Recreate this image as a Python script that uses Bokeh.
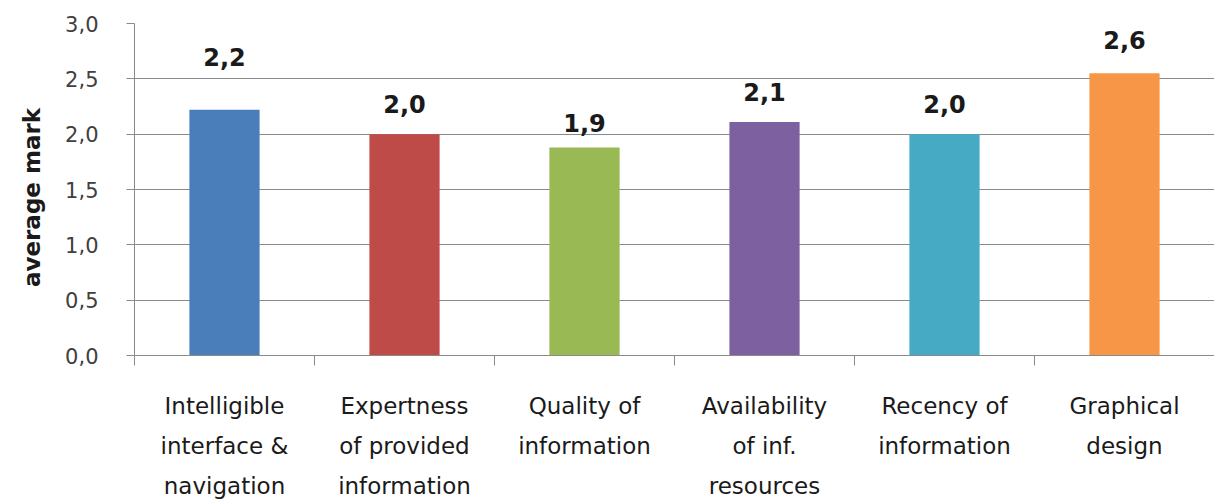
from bokeh.plotting import figure
from bokeh.models import (Range1d, LinearAxis, FixedTicker, CustomJSTickFormatter,
                          ColumnDataSource)
from bokeh.core.properties import value
from bokeh.embed import file_html
from bokeh.resources import INLINE

# ---- data ----
categories = [
    "Intelligible\ninterface &\nnavigation",
    "Expertness\nof provided\ninformation",
    "Quality of\ninformation",
    "Availability\nof inf.\nresources",
    "Recency of\ninformation",
    "Graphical\ndesign",
]
values = [2.22, 2.0, 1.88, 2.11, 2.0, 2.55]
value_labels = ["2,2", "2,0", "1,9", "2,1", "2,0", "2,6"]
y_ticks = [0.0, 0.5, 1.0, 1.5, 2.0, 2.5, 3.0]

# ---- styles ----
colors = ["#4A7EBB", "#BE4B48", "#98B954", "#7D60A0", "#46AAC5", "#F79646"]
label_gap_px = [53, 30, 24, 30, 30, 33]
FONT = "DejaVu Sans"
GRID = "#8A8A8A"

n = len(categories)
centers = [i + 0.5 for i in range(n)]

source = ColumnDataSource(dict(
    x=centers, val=values, lab=value_labels, color=colors,
    dy=[-g for g in label_gap_px],
))

p = figure(
    x_range=Range1d(0, n),
    y_range=Range1d(0, 3),
    width=1214, height=501,
    output_backend="svg", toolbar_location=None,
    x_axis_location=None, y_axis_location="left",
    min_border_left=134, min_border_right=0,
    min_border_top=23, min_border_bottom=145,
)
p.outline_line_color = None
p.background_fill_color = "white"
p.border_fill_color = "white"
p.xgrid.visible = False

# y axis
yax = p.yaxis[0]
yax.ticker = FixedTicker(ticks=y_ticks)
yax.formatter = CustomJSTickFormatter(code="return tick.toFixed(1).replace('.', ',');")
yax.major_tick_out = 8
yax.major_tick_in = 0
yax.minor_tick_line_color = None
yax.axis_line_color = GRID
yax.major_tick_line_color = GRID
yax.major_label_standoff = 28
yax.major_label_text_font = FONT
yax.major_label_text_font_size = "21px"
yax.major_label_text_color = "#404040"
yax.axis_label = "average   mark"
yax.axis_label_text_font = FONT
yax.axis_label_text_font_style = "bold"
yax.axis_label_text_font_size = "23px"
yax.axis_label_text_color = "#1a1a1a"
yax.axis_label_standoff = 17

p.ygrid.grid_line_color = GRID
p.ygrid.grid_line_width = 1

# boundary ticks on the x axis
tick_axis = LinearAxis(
    ticker=FixedTicker(ticks=list(range(n + 1))),
    formatter=CustomJSTickFormatter(code="return '';"),
    major_label_text_font_size="0px", major_label_standoff=0,
    major_tick_out=10, major_tick_in=0, minor_tick_line_color=None,
    axis_line_color=GRID, major_tick_line_color=GRID,
)
p.add_layout(tick_axis, "below")

# category labels
cat_axis = LinearAxis(
    ticker=FixedTicker(ticks=centers),
    formatter=CustomJSTickFormatter(args=dict(labels=categories),
                                    code="return labels[Math.floor(tick)];"),
    major_tick_line_color=None, axis_line_color=None, minor_tick_line_color=None,
    major_label_standoff=21,
    major_label_text_font=FONT,
    major_label_text_font_size="23px",
    major_label_text_color="#1a1a1a",
    major_label_text_line_height=1.54,
)
p.add_layout(cat_axis, "below")

# bars
p.vbar(x="x", top="val", width=0.39, bottom=0, color="color",
       line_color=None, source=source)

# value labels
p.text(x="x", y="val", text="lab", y_offset="dy", source=source,
       text_align="center", text_baseline="alphabetic",
       text_font=value(FONT), text_font_style="bold",
       text_font_size="24px", text_color="#1a1a1a")

open("out.html", "w").write(file_html(p, INLINE))
